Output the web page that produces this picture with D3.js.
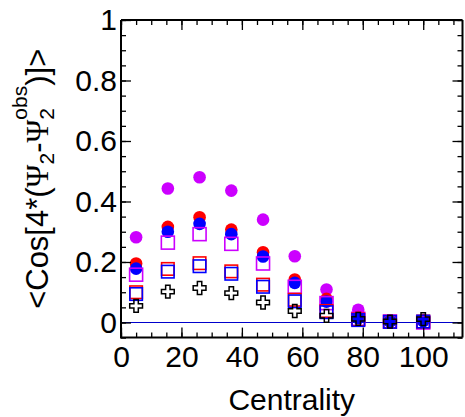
<!DOCTYPE html>
<html>
<head>
<meta charset="utf-8">
<script src="https://cdn.jsdelivr.net/npm/d3@7"></script>
<style>
  html, body { margin: 0; padding: 0; background: #fff; }
  svg { display: block; }
  text { font-family: "Liberation Sans", Arial, Helvetica, sans-serif; fill: #000; }
</style>
</head>
<body>
<svg id="chart" width="465" height="417"></svg>
<script>
// ---- data ----
const centrality = [5, 15.5, 26, 36.5, 47, 57.5, 68, 78.5, 89, 100];
const magentaCircles = [0.282, 0.443, 0.480, 0.436, 0.340, 0.219, 0.109, 0.042, 0.006, 0.008];
const redCircles     = [0.195, 0.316, 0.348, 0.307, 0.232, 0.142, 0.078, 0.018, 0.004, 0.006];
const blueCircles    = [0.178, 0.300, 0.326, 0.292, 0.218, 0.131, 0.069, 0.014, 0.003, 0.005];
const magentaSquares = [0.158, 0.264, 0.292, 0.260, 0.195, 0.118, 0.064, 0.012, 0.003, 0.000];
const redSquares     = [0.100, 0.177, 0.196, 0.169, 0.125, 0.075, 0.038, 0.010, 0.002, 0.003];
const blueSquares    = [0.094, 0.168, 0.186, 0.161, 0.118, 0.070, 0.034, 0.008, 0.002, 0.003];
const crosses        = [0.055, 0.102, 0.114, 0.097, 0.066, 0.038, 0.022, 0.012, 0.003, 0.011];
const xTickLabels = [0, 20, 40, 60, 80, 100];
const yTickLabels = [0, 0.2, 0.4, 0.6, 0.8, 1];
const xTitle = "Centrality";

// ---- layout ----
const L = 121, R = 462.5, T = 20, B = 337.6;
const svg = d3.select("#chart");
const x = d3.scaleLinear().domain([0, 113]).range([L, R]);
const y = d3.scaleLinear().domain([-0.05, 1]).range([B, T]);

const MAG = "#cc00ff", RED = "#ff0000", BLUE = "#0000ff";

// zero line
svg.append("line")
  .attr("x1", x(0)).attr("x2", R).attr("y1", y(0)).attr("y2", y(0))
  .attr("stroke", "#0000cc").attr("stroke-width", 1.2);

// ---- markers ----
function circles(vals, color) {
  svg.append("g").selectAll("circle").data(vals).join("circle")
    .attr("cx", (d, i) => x(centrality[i])).attr("cy", d => y(d))
    .attr("r", 6.3).attr("fill", color);
}
function squares(vals, color, s) {
  svg.append("g").selectAll("rect").data(vals).join("rect")
    .attr("x", (d, i) => x(centrality[i]) - s / 2).attr("y", d => y(d) - s / 2)
    .attr("width", s).attr("height", s)
    .attr("fill", "none").attr("stroke", color).attr("stroke-width", 1.6);
}
function crossPath(cx, cy) {
  const a = 6.4, b = 2.2;
  return `M${cx - b},${cy - a}H${cx + b}V${cy - b}H${cx + a}V${cy + b}H${cx + b}V${cy + a}H${cx - b}V${cy + b}H${cx - a}V${cy - b}H${cx - b}Z`;
}
circles(magentaCircles, MAG);
circles(redCircles, RED);
circles(blueCircles, BLUE);
squares(magentaSquares, MAG, 13);
squares(redSquares, RED, 12.5);
squares(blueSquares, BLUE, 12.5);
svg.append("g").selectAll("path").data(crosses).join("path")
  .attr("d", (d, i) => crossPath(x(centrality[i]), y(d)))
  .attr("fill", "none").attr("stroke", "#000").attr("stroke-width", 1.5);

// ---- axes ----
const xMinor = d3.range(0, 113, 5);
const yMinor = d3.range(-0.05, 1.0001, 0.05).map(v => +v.toFixed(2));

function styleAxis(g) {
  g.select(".domain").remove();
  g.selectAll(".tick line").attr("stroke", "#000").attr("stroke-width", 1.3);
}
// bottom minor + major with labels
svg.append("g").attr("transform", `translate(0,${B})`)
  .call(d3.axisBottom(x).tickValues(xMinor).tickSize(-5).tickFormat(""))
  .call(styleAxis);
svg.append("g").attr("transform", `translate(0,${B})`)
  .call(d3.axisBottom(x).tickValues(xTickLabels).tickSize(-10).tickPadding(8).tickFormat(d3.format("d")))
  .call(styleAxis)
  .call(g => g.selectAll("text").attr("font-size", 30).style("font-family", "Liberation Sans, Arial, sans-serif"));
// top ticks
svg.append("g").attr("transform", `translate(0,${T})`)
  .call(d3.axisTop(x).tickValues(xMinor).tickSize(-5).tickFormat("")).call(styleAxis);
svg.append("g").attr("transform", `translate(0,${T})`)
  .call(d3.axisTop(x).tickValues(xTickLabels).tickSize(-10).tickFormat("")).call(styleAxis);
// left
svg.append("g").attr("transform", `translate(${L},0)`)
  .call(d3.axisLeft(y).tickValues(yMinor).tickSize(-5).tickFormat("")).call(styleAxis);
svg.append("g").attr("transform", `translate(${L},0)`)
  .call(d3.axisLeft(y).tickValues(yTickLabels).tickSize(-10).tickPadding(4).tickFormat(d => d === 0 ? "0" : d === 1 ? "1" : d3.format(".1f")(d)))
  .call(styleAxis)
  .call(g => g.selectAll("text").attr("font-size", 30).style("font-family", "Liberation Sans, Arial, sans-serif"));
// right
svg.append("g").attr("transform", `translate(${R},0)`)
  .call(d3.axisRight(y).tickValues(yMinor).tickSize(-5).tickFormat("")).call(styleAxis);
svg.append("g").attr("transform", `translate(${R},0)`)
  .call(d3.axisRight(y).tickValues(yTickLabels).tickSize(-10).tickFormat("")).call(styleAxis);

// frame
svg.append("path")
  .attr("d", `M${L},${T}H${R}M${L},${T}V${B}H${R}`)
  .attr("fill", "none").attr("stroke", "#000").attr("stroke-width", 2);
svg.append("line").attr("x1", R).attr("x2", R).attr("y1", T).attr("y2", B)
  .attr("stroke", "#000").attr("stroke-width", 2);

// ---- titles ----
svg.append("text")
  .attr("x", (L + R) / 2).attr("y", 410)
  .attr("text-anchor", "middle").attr("font-size", 30)
  .text(xTitle);

const yt = svg.append("text")
  .attr("transform", `translate(48,${(T + B) / 2}) rotate(-90)`)
  .attr("text-anchor", "middle").attr("font-size", 31);
yt.append("tspan").text("<Cos[4*(");
yt.append("tspan").style("font-family", "Liberation Serif, serif").text("Ψ");
yt.append("tspan").attr("font-size", 21).attr("dy", 6).text("2");
yt.append("tspan").attr("dy", -6).text("-");
yt.append("tspan").style("font-family", "Liberation Serif, serif").text("Ψ");
yt.append("tspan").attr("font-size", 21).attr("dy", 6).text("2");
yt.append("tspan").attr("font-size", 21).attr("dx", -11.7).attr("dy", -27).text("obs");
yt.append("tspan").attr("dy", 21).text(")]>");
</script>
</body>
</html>
